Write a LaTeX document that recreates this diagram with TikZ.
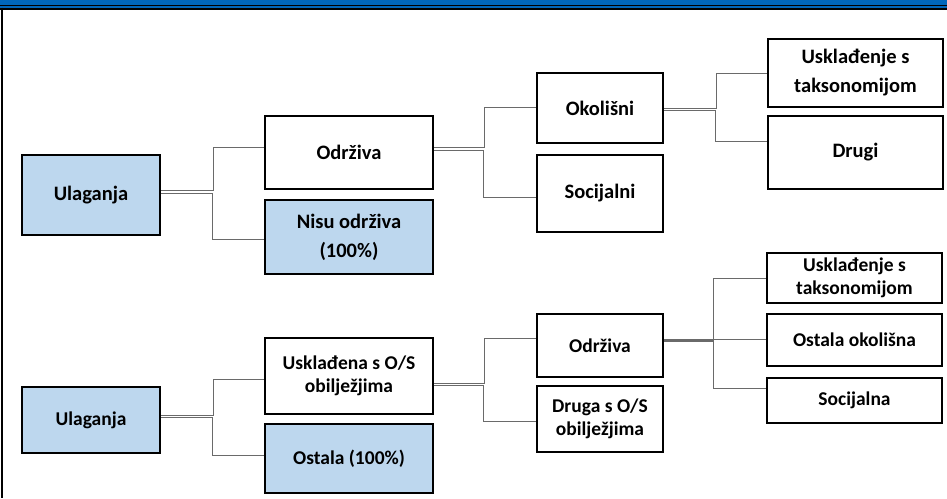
\documentclass[tikz,border=0pt]{standalone}
\usepackage{fontspec}
\setmainfont{Carlito}
\usetikzlibrary{calc}
\definecolor{lblue}{HTML}{BDD7EE}
\definecolor{bandblue}{HTML}{0066BB}
\definecolor{conncol}{HTML}{6A6A6A}
\begin{document}
\begin{tikzpicture}[x=1pt,y=-1pt,
  box/.style={draw=black,line width=2pt,fill=white,inner sep=0pt,align=center,
    font=\fontsize{20.5}{29}\selectfont\bfseries},
  sbox/.style={box,font=\fontsize{19.5}{23}\selectfont\bfseries},
  hl/.style={fill=lblue},
  conn/.style={draw=conncol,line width=1pt}]
\useasboundingbox (0,0) rectangle (947,498);
\fill[white] (0,0) rectangle (947,498);
% top band and left border
\fill[bandblue] (0,0) rectangle (947,7.5);
\draw[line width=1pt] (0,5.5) -- (947,5.5);
\draw[line width=2pt] (0,8.5) -- (947,8.5);
\draw[line width=2pt] (2,7.5) -- (2,498);

% ---------- top tree ----------
\node[box,hl,minimum width=138pt,minimum height=80pt] (U1) at (91,195) {Ulaganja};
\node[box,minimum width=168pt,minimum height=73pt] (A1) at (349,152.5) {Održiva};
\node[box,hl,minimum width=168pt,minimum height=74pt] (B1) at (349,237) {Nisu održiva\\(100\%)};
\node[box,minimum width=126pt,minimum height=70pt] (C1) at (600,108) {Okolišni};
\node[box,minimum width=126pt,minimum height=77pt] (D1) at (600,193.5) {Socijalni};
\node[box,minimum width=175pt,minimum height=68pt] (E1) at (855.5,73) {Usklađenje s\\taksonomijom};
\node[box,minimum width=175pt,minimum height=73pt] (F1) at (855.5,152.5) {Drugi};

\draw[conn] ($(U1.east)+(0,-5)$) -- ++(52,0) |- ($(A1.west)+(0,-5.5)$);
\draw[conn] ($(U1.east)+(0,-2)$) -- ++(51,0) |- ($(B1.west)+(0,2)$);
\draw[conn] ($(A1.east)+(0,-5.5)$) -- ++(50,0) |- ($(C1.west)+(0,-1)$);
\draw[conn] ($(A1.east)+(0,-2.5)$) -- ++(49,0) |- ($(D1.west)+(0,3.5)$);
\draw[conn] ($(C1.east)+(0,0)$) -- ++(52,0) |- ($(E1.west)+(0,0)$);
\draw[conn] ($(C1.east)+(0,2)$) -- ++(51,0) |- ($(F1.west)+(0,-11.5)$);

% ---------- bottom tree ----------
\node[sbox,hl,minimum width=138pt,minimum height=66pt] (U2) at (91,420) {Ulaganja};
\node[sbox,minimum width=168pt,minimum height=76pt] (A2) at (349,376) {Usklađena s O/S\\obilježjima};
\node[sbox,hl,minimum width=168pt,minimum height=69pt] (B2) at (349,458.5) {Ostala (100\%)};
\node[sbox,minimum width=126pt,minimum height=63pt] (C2) at (600,345.5) {Održiva};
\node[sbox,minimum width=126pt,minimum height=66pt] (D2) at (600,419) {Druga s O/S\\obilježjima};
\node[sbox,minimum width=175pt,minimum height=50pt] (E2) at (854.5,278) {Usklađenje s\\taksonomijom};
\node[sbox,minimum width=175pt,minimum height=52pt] (F2) at (854.5,340) {Ostala okolišna};
\node[sbox,minimum width=175pt,minimum height=45pt] (G2) at (854.5,400.5) {Socijalna};

\draw[conn] ($(U2.east)+(0,-5)$) -- ++(52,0) |- ($(A2.west)+(0,3)$);
\draw[conn] ($(U2.east)+(0,-3)$) -- ++(51,0) |- ($(B2.west)+(0,-3.5)$);
\draw[conn] ($(A2.east)+(0,7)$) -- ++(50,0) |- ($(C2.west)+(0,-7.5)$);
\draw[conn] ($(A2.east)+(0,9)$) -- ++(49,0) |- ($(D2.west)+(0,2)$);
\draw[conn] ($(C2.east)+(0,-6)$) -- ++(49,0) |- ($(E2.west)+(0,0)$);
\draw[conn] ($(C2.east)+(0,-5)$) -- ++(49,0) |- ($(F2.west)+(0,-1)$);
\draw[conn] ($(C2.east)+(0,-4)$) -- ++(49,0) |- ($(G2.west)+(0,-12.5)$);
\end{tikzpicture}
\end{document}
